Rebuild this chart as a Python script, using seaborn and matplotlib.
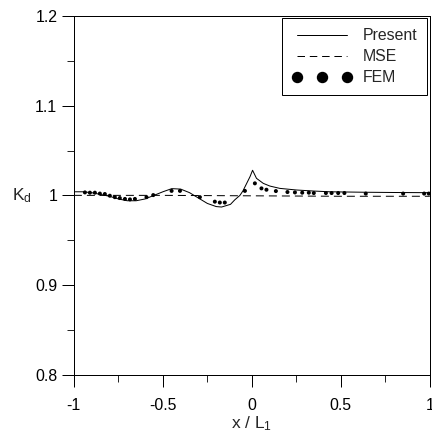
import numpy as np
import pandas as pd
import matplotlib
matplotlib.use("Agg")
import matplotlib.pyplot as plt
from matplotlib.lines import Line2D
import seaborn as sns

# Present (solid curve)
present_x = [-1.0, -0.95, -0.9, -0.85, -0.8, -0.75, -0.7, -0.65, -0.6, -0.55,
             -0.5, -0.45, -0.4, -0.35, -0.3, -0.25, -0.2, -0.17, -0.12, -0.096,
             -0.067, -0.05, -0.03, -0.01, 0.004, 0.026, 0.064, 0.101, 0.157,
             0.25, 0.35, 0.438, 0.625, 0.8, 1.0]
present_y = [1.004, 1.004, 1.003, 1.001, 0.999, 0.996, 0.994, 0.994, 0.996, 1.000,
             1.004, 1.0075, 1.007, 1.003, 0.997, 0.991, 0.9875, 0.987, 0.990, 0.995,
             1.000, 1.005, 1.013, 1.021, 1.028, 1.019, 1.0134, 1.0104, 1.0078,
             1.006, 1.0048, 1.004, 1.0035, 1.0032, 1.003]

# MSE (dashed line)
mse_x = [-1.0, -0.5, 0.0, 0.5, 1.0]
mse_y = [1.0, 1.0, 0.9995, 0.999, 0.999]

# FEM (dots)
fem_x = [-0.938, -0.910, -0.882, -0.854, -0.826, -0.798, -0.770, -0.742, -0.713,
         -0.685, -0.657, -0.592, -0.554, -0.451, -0.404, -0.292, -0.208, -0.180,
         -0.152, -0.039, 0.017, 0.054, 0.082, 0.135, 0.200, 0.242, 0.283, 0.320,
         0.348, 0.416, 0.448, 0.485, 0.520, 0.640, 0.850, 0.968, 0.994]
fem_y = [1.0033, 1.003, 1.003, 1.002, 1.0015, 0.9996, 0.998, 0.997, 0.996,
         0.9955, 0.996, 0.998, 1.0003, 1.005, 1.005, 0.998, 0.993, 0.992,
         0.992, 1.005, 1.0134, 1.0078, 1.0063, 1.0048, 1.0037, 1.0033, 1.003, 1.003,
         1.0026, 1.0026, 1.0026, 1.0026, 1.0026, 1.002, 1.002, 1.002, 1.002]

present = pd.DataFrame({"x": present_x, "y": present_y})
mse = pd.DataFrame({"x": mse_x, "y": mse_y})
fem = pd.DataFrame({"x": fem_x, "y": fem_y})

sns.set_style("ticks")
plt.rcParams["font.family"] = ["Liberation Sans", "DejaVu Sans"]
plt.rcParams["mathtext.fontset"] = "custom"
plt.rcParams["mathtext.rm"] = "Liberation Sans"
plt.rcParams["mathtext.it"] = "Liberation Sans"

# 100 dpi: 1 px = 0.72 pt
PX = 0.72
fig = plt.figure(figsize=(4.32, 4.33), dpi=100)
ax = fig.add_axes([0.171, 0.1346, 0.824, 0.8284])

sns.lineplot(data=present, x="x", y="y", ax=ax, color="black", lw=1.0 * PX, sort=False)
sns.lineplot(data=mse, x="x", y="y", ax=ax, color="black", lw=1.0 * PX,
             linestyle=(0, (8, 5)), sort=False)
sns.scatterplot(data=fem, x="x", y="y", ax=ax, color="black", s=(4 * PX) ** 2,
                edgecolor="none")

fs = 11.4
ax.set_xlim(-1, 1)
ax.set_ylim(0.8, 1.2)
ax.set_xticks([-1, -0.5, 0, 0.5, 1])
ax.set_xticklabels(["-1", "-0.5", "0", "0.5", "1"])
ax.set_yticks([0.8, 0.9, 1.0, 1.1, 1.2])
ax.set_yticklabels(["0.8", "0.9", "1", "1.1", "1.2"])
ax.set_xticks([-0.75, -0.25, 0.25, 0.75], minor=True)
ax.set_yticks([0.85, 0.95, 1.05, 1.15], minor=True)
ax.tick_params(which="major", direction="out", length=12 * PX, width=1 * PX,
               labelsize=fs, colors="black")
ax.tick_params(axis="x", which="major", pad=11 * PX)
ax.tick_params(axis="y", which="major", pad=4.5 * PX)
ax.tick_params(which="minor", direction="out", length=7 * PX, width=1 * PX)
for sp in ax.spines.values():
    sp.set_visible(True)
    sp.set_linewidth(1 * PX)
    sp.set_color("black")

ax.set_xlabel(r"x / L$_\mathregular{1}$", fontsize=12.5, labelpad=1)
ax.set_ylabel(r"K$_\mathregular{d}$", fontsize=12.5, rotation=0,
              ha="center", va="center")
ax.yaxis.set_label_coords(-0.147, 0.5)

handles = [
    Line2D([], [], color="black", lw=1 * PX),
    Line2D([], [], color="black", lw=1 * PX, ls=(0, (7.5, 4.8))),
    Line2D([], [], color="black", ls="none", marker="o", markersize=10 * PX),
]
leg = ax.legend(handles, ["Present", "MSE", "FEM"], loc="upper right",
                fontsize=fs, frameon=True, fancybox=False, numpoints=3,
                handlelength=3.8, handletextpad=0.7, labelspacing=0.38,
                borderaxespad=0.15, borderpad=0.62, markerfirst=True)
leg.get_frame().set_edgecolor("black")
leg.get_frame().set_linewidth(1 * PX)
leg.get_frame().set_alpha(1)

fig.savefig("out.png", dpi=100)
